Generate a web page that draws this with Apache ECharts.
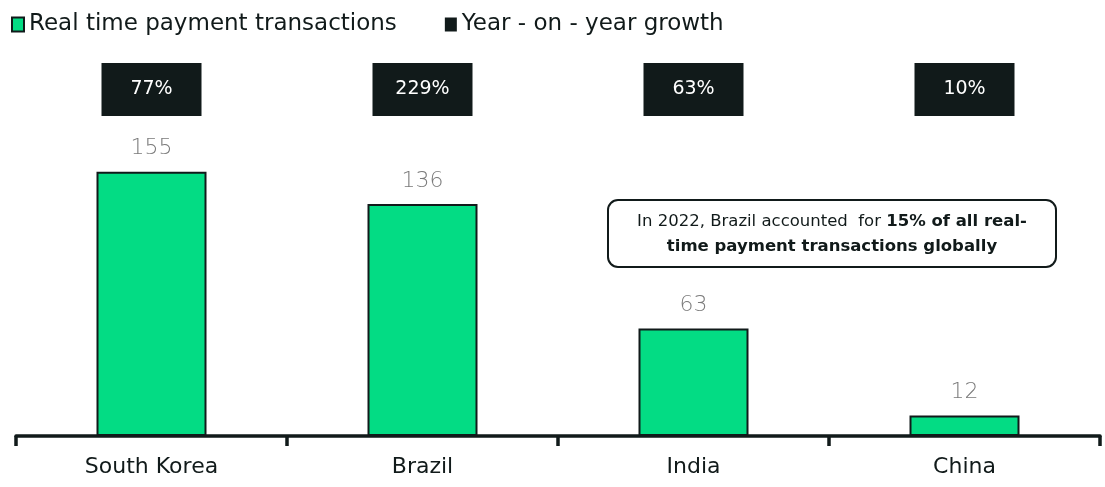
<!DOCTYPE html>
<html>
<head>
<meta charset="utf-8">
<script src="https://cdn.jsdelivr.net/npm/echarts@6/dist/echarts.min.js"></script>
<style>
  html, body { margin: 0; padding: 0; background: #ffffff; }
  #chart { width: 1105px; height: 487px; }
</style>
</head>
<body>
<div id="chart"></div>
<script>
// Real-time payment transactions (billions) and year-on-year growth by country
const countries = ['South Korea', 'Brazil', 'India', 'China'];
const transactions = [155, 136, 63, 12];
const growth = ['77%', '229%', '63%', '10%'];

const INK = '#111a1a';
const GREEN = '#03dc84';
const FONT = '"DejaVu Sans", "Noto Sans", sans-serif';

const chart = echarts.init(document.getElementById('chart'));

chart.setOption({
  animation: false,
  backgroundColor: '#ffffff',
  textStyle: { fontFamily: FONT },
  legend: {
    left: 6,
    top: 8,
    itemWidth: 12,
    itemHeight: 14,
    itemGap: 48,
    icon: 'rect',
    textStyle: { fontSize: 23, color: INK, fontFamily: FONT, padding: [0, 0, 0, 0] },
    data: [
      { name: 'Real time payment transactions', itemStyle: { color: GREEN, borderColor: INK, borderWidth: 2 } },
      { name: 'Year - on - year growth', itemStyle: { color: INK } }
    ]
  },
  grid: { left: 16, right: 5, top: 129, bottom: 51, containLabel: false },
  xAxis: [
    {
      type: 'category',
      data: countries,
      position: 'bottom',
      axisLine: { lineStyle: { color: INK, width: 3.5 } },
      axisTick: { show: true, length: 10, lineStyle: { color: INK, width: 3.5 } },
      axisLabel: { fontSize: 22, color: INK, margin: 20, fontFamily: FONT }
    },
    {
      type: 'category',
      data: countries,
      position: 'top',
      axisLine: { show: false },
      axisTick: { show: false },
      axisLabel: {
        margin: 13,
        formatter: (v, i) => growth[i],
        color: '#ffffff',
        fontSize: 19,
        fontFamily: FONT,
        backgroundColor: INK,
        width: 100,
        height: 53,
        lineHeight: 53,
        align: 'center',
        verticalAlign: 'bottom'
      }
    }
  ],
  yAxis: {
    type: 'value',
    min: 0,
    max: 180,
    show: false
  },
  series: [
    {
      name: 'Real time payment transactions',
      type: 'bar',
      data: transactions,
      barWidth: 110,
      itemStyle: { color: GREEN, borderColor: INK, borderWidth: 2 },
      label: {
        show: true,
        position: 'top',
        distance: 12,
        fontSize: 22,
        color: '#7a7a7a',
        fontFamily: FONT,
        fontWeight: 200
      }
    },
    {
      name: 'Year - on - year growth',
      type: 'line',
      xAxisIndex: 1,
      data: [],
      itemStyle: { color: INK }
    }
  ],
  graphic: [
    {
      type: 'rect',
      shape: { x: 608, y: 200, width: 448, height: 67, r: 10 },
      style: { fill: '#ffffff', stroke: INK, lineWidth: 2 }
    },
    {
      type: 'text',
      x: 832,
      y: 234,
      style: {
        text: '{n|In 2022, Brazil accounted  for }{b|15% of all real-}\n{b|time payment transactions globally}',
        align: 'center',
        verticalAlign: 'middle',
        fill: INK,
        rich: {
          n: { fontSize: 16.5, fontFamily: FONT, fill: INK, lineHeight: 25 },
          b: { fontSize: 16.5, fontFamily: FONT, fontWeight: 'bold', fill: INK, lineHeight: 25 }
        }
      }
    }
  ]
});
</script>
</body>
</html>
